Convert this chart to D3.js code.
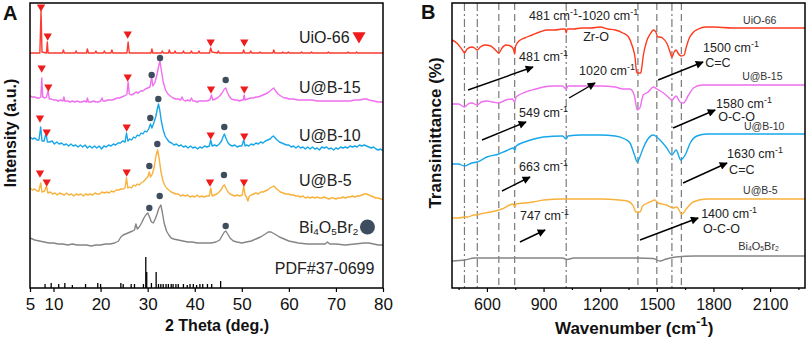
<!DOCTYPE html>
<html>
<head>
<meta charset="utf-8">
<script src="https://cdn.jsdelivr.net/npm/d3@7"></script>
<style>
  body { margin: 0; background: #fff; }
  svg { font-family: "Liberation Sans", Arial, sans-serif; }
  .frame { fill: none; stroke: #000; stroke-width: 1.5; }
  .axis path { display: none; }
  .axis line { stroke: #000; stroke-width: 1.2; }
  .axis text { font-size: 16px; fill: #111; font-family: "Liberation Sans", Arial, sans-serif; }
  .axisA text { font-size: 17px; }
  .title { font-weight: bold; fill: #111; }
  .curve { fill: none; stroke-width: 1.4; stroke-linejoin: round; }
</style>
</head>
<body>
<svg id="chart" width="809" height="340"></svg>
<script>
// ---------- data (XRD, panel A) : [2theta, counts above own baseline] ----------
var xrdNames = ["UiO-66", "U@B-15", "U@B-10", "U@B-5", "Bi4O5Br2"];
var xrdColors = ["#fb3b2f", "#f06ef0", "#17a6ea", "#f8b13c", "#858585"];
var xrdOffsets = [235, 185, 140, 91, 43];
var xrdTicks = [5, 10, 20, 30, 40, 50, 60, 70, 80];

var xrdUiO66 = [[5,0],[7.1,0],[7.34,42],[7.55,1],[8.5,0],[8.68,11],[8.85,0],[11.9,0],[12.1,3],[12.3,0],[14.6,0],[14.8,2],[15.0,0],[17.0,0],[17.2,4],[17.4,0],[18.8,0],[19.0,2],[19.2,0],[20.6,0],[20.8,2],[21.0,0],[22.2,0],[22.4,3],[22.6,0],[25.6,0],[25.85,11],[26.1,0],[30.7,0],[30.9,4],[31.1,0],[32.9,0],[33.1,2],[33.3,0],[34.4,0],[34.6,3],[34.8,0],[35.6,0],[35.8,2],[36.0,0],[37.4,0],[37.6,2],[37.8,0],[39.1,0],[39.3,2],[39.5,0],[40.7,0],[40.9,2],[41.1,0],[43.15,0],[43.4,5],[43.65,1],[44.8,0],[45.0,2],[45.2,0],[50.2,0],[50.4,3],[50.6,0],[51.7,0],[51.9,2],[52.1,0],[53.7,0],[53.9,1],[54.1,0],[56.6,0],[56.8,3],[57.0,0],[58.5,0],[58.7,1],[58.9,0],[59.7,0],[59.9,1],[60.1,0],[62.5,0],[62.7,1],[62.9,0],[64.6,0],[64.8,1],[65.0,0],[68.2,0],[68.4,1],[68.6,0],[72.4,0],[72.6,1],[72.8,0],[74.2,0],[74.4,1],[74.6,0],[80,0]];

var xrdUB15 = [[5,7],[5.5,6],[6,6],[6.5,5],[7.0,5],[7.3,6],[7.5,25],[7.7,6],[8.2,5],[8.5,6],[8.85,12],[9.1,4],[9.6,4],[10,3],[10.5,3],[11,2],[11.5,3],[12,2],[12.2,6],[12.4,2],[13,2],[13.5,1],[14,2],[14.5,1],[15,2],[15.5,1],[16,1],[16.5,2],[17,1],[17.2,5],[17.4,1],[18,1],[18.5,2],[19,1],[19.5,1],[20,2],[20.3,5],[20.5,2],[21,2],[21.5,3],[22,3],[22.5,3],[23,4],[23.5,5],[24,5],[24.5,6],[25,7],[25.4,8],[25.6,9],[25.85,21],[26.1,9],[26.5,8],[27,9],[27.5,11],[28,10],[28.5,12],[29,12],[29.5,14],[30,15],[30.5,16],[30.85,26],[31.1,17],[31.5,20],[31.9,27],[32.3,36],[32.6,42],[32.9,33],[33.3,21],[33.8,13],[34.3,9],[34.8,7],[35.4,5],[36,4],[36.5,4],[37,3],[37.3,6],[37.6,3],[38,2],[38.5,3],[39,2],[39.3,5],[39.6,2],[40,2],[40.5,1],[41,2],[41.5,2],[42,2],[42.5,2],[43.2,3],[43.55,8],[43.8,3],[44.3,4],[44.8,5],[45.3,7],[45.8,10],[46.3,14],[46.6,15],[46.9,11],[47.3,7],[47.8,4],[48.5,3],[49,3],[49.5,2],[50,3],[50.3,3],[50.5,8],[50.7,3],[51.2,4],[51.8,5],[52.5,5],[53,6],[53.5,6],[54,7],[54.5,8],[55,9],[55.5,10],[56,12],[56.5,14],[56.8,15],[57.2,12],[57.7,9],[58.3,7],[59,5],[59.5,5],[60,4],[61,4],[62,3],[63,3],[64,3],[65,3],[66,2],[67,2],[68,2],[69,2],[70,2],[71,2],[72,2],[73,2],[74,3],[75,3],[76,4],[76.5,4],[77,3],[78,2],[79,1],[80,1]];

var xrdUB10 = [[5,11],[5.5,9],[6,10],[6.5,8],[6.9,8],[7.27,21],[7.55,7],[8.0,7],[8.4,15],[8.7,6],[9.2,6],[9.7,7],[10.2,4],[10.7,6],[11.2,4],[11.7,5],[12.2,3],[12.7,4],[13.2,2],[13.7,4],[14.2,2],[14.7,3],[15.2,1],[15.7,3],[16.2,1],[16.7,3],[17.2,0],[17.7,2],[18.2,0],[18.7,2],[19.2,0],[19.7,2],[20.2,-1],[20.7,2],[21.2,1],[21.7,3],[22.2,2],[22.7,4],[23.2,3],[23.7,5],[24.2,5],[24.7,7],[25.2,6],[25.5,15],[25.8,7],[26.2,9],[26.6,8],[27.0,11],[27.4,10],[27.8,13],[28.2,12],[28.6,15],[29.0,14],[29.4,17],[29.8,16],[30.2,19],[30.6,24],[30.9,20],[31.3,25],[31.7,31],[32.0,38],[32.3,44],[32.6,37],[32.9,27],[33.3,18],[33.7,12],[34.1,9],[34.6,6],[35.1,5],[35.6,3],[36.1,4],[36.6,2],[37.1,3],[37.6,1],[38.1,2],[38.6,0],[39.1,2],[39.6,0],[40.1,1],[40.6,-1],[41.1,1],[41.6,0],[42.1,2],[42.6,1],[43.1,2],[43.4,8],[43.7,2],[44.2,3],[44.7,2],[45.2,4],[45.7,7],[46.0,11],[46.3,14],[46.7,9],[47.1,5],[47.5,3],[48,2],[48.5,3],[49,1],[49.5,2],[50.0,2],[50.4,8],[50.7,2],[51,3],[51.5,2],[52,4],[52.5,3],[53,5],[53.5,4],[54,6],[54.5,5],[55,7],[55.5,8],[56,9],[56.4,11],[56.7,12],[57.1,10],[57.5,8],[58,6],[58.5,5],[59,4],[59.5,3],[60,3],[60.5,1],[61,2],[61.5,0],[62,2],[62.5,0],[63,1],[63.5,-1],[64,1],[64.5,-1],[65,1],[65.5,-1],[66,0],[66.5,-2],[67,1],[67.5,0],[68,1],[68.5,-1],[69,0],[69.5,-2],[70,0],[70.5,-1],[71,1],[71.5,0],[72,1],[72.5,0],[73,2],[73.5,1],[74,2],[74.5,1],[75,3],[75.5,2],[76,3],[76.5,2],[77,1],[77.5,0],[78,1],[78.5,-1],[79,-2],[79.5,-1],[80,-3]];

var xrdUB5 = [[5,9],[5.5,7],[6,8],[6.5,6],[6.9,6],[7.27,14],[7.55,5],[8.1,6],[8.5,11],[8.8,4],[9.3,5],[9.8,3],[10.3,4],[10.8,2],[11.3,4],[11.8,3],[12.3,2],[12.8,4],[13.3,2],[13.8,3],[14.3,1],[14.8,3],[15.3,2],[15.8,3],[16.3,1],[16.8,3],[17.3,2],[17.8,3],[18.3,2],[18.8,4],[19.3,3],[19.8,3],[20.3,5],[20.8,4],[21.3,5],[21.8,4],[22.3,6],[22.8,5],[23.3,7],[23.8,7],[24.3,8],[24.8,8],[25.2,9],[25.5,19],[25.8,9],[26.2,10],[26.6,9],[27.0,12],[27.4,11],[27.8,13],[28.2,12],[28.6,14],[29.0,15],[29.4,17],[29.8,19],[30.1,21],[30.35,25],[30.6,20],[31.0,23],[31.4,30],[31.8,42],[32.1,47],[32.4,40],[32.8,26],[33.2,17],[33.6,12],[34.0,9],[34.5,7],[35,5],[35.5,4],[36,3],[36.5,3],[37,1],[37.5,2],[38,1],[38.5,2],[39,0],[39.5,1],[40,0],[40.5,2],[41,0],[41.5,1],[42,0],[42.5,1],[43.1,1],[43.4,9],[43.7,1],[44.2,2],[44.7,3],[45.2,5],[45.7,8],[46.0,11],[46.3,12],[46.7,8],[47.1,5],[47.5,3],[48,2],[48.5,1],[49,2],[49.5,1],[50.1,2],[50.4,11],[50.7,2],[51.0,0],[51.3,-4],[51.6,1],[52,2],[52.5,3],[53,4],[53.5,3],[54,5],[54.5,5],[55,6],[55.5,7],[56,9],[56.4,10],[56.8,11],[57.2,9],[57.7,7],[58.2,5],[58.8,4],[59.3,3],[60,3],[60.5,2],[61,2],[61.5,1],[62,1],[62.5,0],[63,1],[63.5,-1],[64,0],[64.5,-1],[65,0],[65.5,-1],[66,0],[66.5,-1],[67,-1],[67.5,0],[68,-1],[68.5,-2],[69,-1],[69.5,-1],[70,-2],[70.5,-1],[71,-1],[71.5,0],[72,-1],[72.5,0],[73,0],[73.5,1],[74,0],[74.5,1],[75,1],[75.5,2],[76,3],[76.5,3],[77,2],[77.5,1],[78,0],[78.5,-1],[79,-1],[79.5,-2],[80,-2]];

var xrdBOB = [[5,7],[6,5],[7,4],[8,3],[9,2],[10,2],[11,1],[12,1],[13,0],[14,1],[15,0],[16,0],[17,0],[18,-1],[19,0],[20,0],[21,1],[22,1],[23,2],[23.8,4],[24.3,8],[24.8,10],[25.3,11],[25.8,12],[26.3,13],[26.8,14],[27.2,15],[27.5,21],[27.8,16],[28.2,18],[28.7,22],[29.2,27],[29.6,30],[30.0,32],[30.4,28],[30.8,23],[31.2,22],[31.6,26],[32.0,31],[32.4,37],[32.8,40],[33.1,33],[33.5,22],[34,14],[34.5,10],[35,7],[35.5,6],[36.5,5],[37.5,4],[38.5,3],[39.5,3],[40.5,2],[41.5,2],[42.5,2],[43.5,2],[44.5,3],[45.3,5],[45.9,10],[46.3,13],[46.6,14],[47.0,11],[47.5,7],[48.2,4],[49,3],[50,2],[51,3],[52,4],[53,6],[54,8],[55,11],[55.6,13],[56.2,13],[57,11],[58,8],[59,6],[60,4],[62,2],[64,1],[66,1],[67.7,1],[68.2,3],[68.7,1],[70,1],[72,0],[74,1],[76,2],[77,2],[78,1],[79,0],[80,0]];

// standard card PDF#37-0699 (2theta, relative height)
var pdfSticks = [[8.2,4],[9.5,5],[11.1,4],[12.4,5],[14.0,3],[16.8,4],[19.4,5],[20.0,4],[24.3,5],[24.8,4],[26.5,4],[27.2,4],[29.1,4],[29.6,31],[29.8,16],[30.8,5],[31.8,16],[32.3,4],[32.8,4],[33.3,4],[33.9,4],[34.4,4],[35.0,4],[35.4,4],[36.0,4],[36.5,4],[37.6,4],[38.4,3],[39.0,4],[39.7,4],[40.4,3],[41.1,4],[41.7,4],[42.7,4],[43.6,4],[45.5,7]];

// peak markers: UiO-66 (triangles) and Bi4O5Br2 (dots) per pattern
var uioMarks = [
  [[7.34,46],[8.76,17],[25.76,19],[43.39,11],[50.53,11]],
  [[7.49,35],[8.89,16],[25.76,26],[43.45,14],[50.53,14]],
  [[7.12,30],[8.55,16],[25.54,21],[43.39,13],[50.53,12]],
  [[7.12,24],[8.55,15],[25.54,25],[43.24,15],[50.46,15]],
  []
];
var bobMarks = [
  [],
  [[30.85,28],[32.62,45],[46.58,23]],
  [[30.56,30],[32.26,49],[46.28,21]],
  [[30.35,31],[32.05,53],[46.21,22]],
  [[30.35,37],[32.56,49],[46.58,19]]
];

// ---------- data (FTIR, panel B) : [wavenumber, transmittance rel. to own baseline] ----------
var ftirNames = ["UiO-66", "U@B-15", "U@B-10", "U@B-5", "Bi4O5Br2"];
var ftirColors = ["#ff3b1f", "#f06ef0", "#17a6ea", "#f8b13c", "#858585"];
var ftirOffsets = [260, 203, 154, 89, 32];
var ftirTicks = [600, 900, 1200, 1500, 1800, 2100];
var ftirBands = [481, 549, 663, 747, 1020, 1400, 1500, 1580, 1630];

var ftirUiO66 = [[415,-12],[440,-15],[470,-22],[481,-25],[495,-21],[520,-19],[535,-20],[549,-22],[565,-19],[590,-17],[620,-18],[645,-22],[663,-25],[680,-20],[700,-17],[725,-18],[740,-21],[747,-26],[752,-18],[770,-13],[800,-10],[840,-7],[880,-4],[920,-2],[960,-2],[1000,-1],[1015,-1],[1020,-5],[1025,-1],[1060,-1],[1100,0],[1150,0],[1200,1],[1240,-1],[1280,-2],[1320,-5],[1350,-9],[1370,-18],[1385,-30],[1393,-44],[1397,-45],[1415,-45],[1420,-40],[1428,-28],[1445,-14],[1465,-6],[1482,-2],[1495,-4],[1505,-9],[1515,-9],[1530,-10],[1555,-16],[1570,-24],[1580,-29],[1592,-24],[1602,-22],[1615,-26],[1630,-28],[1645,-27],[1655,-20],[1670,-11],[1690,-5],[1720,-1],[1760,1],[1800,1],[1900,0],[2000,0],[2100,0],[2200,0],[2285,0]];
var ftirUB15 = [[415,-19],[450,-19],[481,-22],[500,-19],[520,-18],[549,-20],[570,-17],[600,-16],[630,-17],[663,-18],[700,-15],[735,-14],[747,-17],[755,-12],[780,-9],[820,-6],[860,-4],[900,-2],[950,-1],[1000,-1],[1020,-4],[1030,-1],[1100,-1],[1200,-1],[1280,-2],[1320,-4],[1358,-4],[1380,-10],[1397,-25],[1410,-23],[1428,-10],[1454,-7],[1482,-2],[1500,-4],[1520,-6],[1535,-8],[1560,-12],[1580,-15],[1602,-11],[1623,-17],[1641,-18],[1668,-10],[1694,-3],[1738,0],[1800,0],[2000,0],[2285,0]];
var ftirUB10 = [[415,-30],[450,-30],[481,-32],[520,-29],[549,-28],[600,-23],[663,-20],[700,-17],[740,-14],[747,-16],[755,-12],[800,-8],[850,-5],[900,-3],[1000,-2],[1020,-5],[1030,-2],[1100,-1],[1200,-1],[1280,-2],[1330,-5],[1358,-9],[1380,-20],[1397,-28],[1410,-23],[1428,-14],[1449,-6],[1482,-1],[1500,-3],[1517,-6],[1553,-14],[1580,-21],[1602,-16],[1627,-26],[1650,-21],[1677,-9],[1712,-2],[1765,0],[1900,0],[2285,0]];
var ftirUB5 = [[415,-19],[450,-19],[481,-18],[500,-18],[530,-16],[549,-16],[563,-15],[620,-13],[663,-11],[680,-10],[720,-6],[740,-5],[747,-8],[755,-5],[800,-4],[845,-3],[900,-1],[1000,0],[1100,0],[1200,0],[1300,-1],[1343,-2],[1375,-7],[1390,-13],[1411,-13],[1425,-7],[1464,-3],[1490,-1],[1506,-4],[1552,-6],[1585,-9],[1606,-8],[1632,-15],[1660,-9],[1692,-3],[1765,0],[2285,0]];
var ftirBOB = [[415,-5],[483,-4],[533,-2],[560,-2],[1000,-2],[1025,-3.5],[1060,-2],[1200,-2],[1400,-2],[1480,-2.5],[1517,-5],[1550,-3],[1600,-1],[1700,0],[2285,0]];

// ---------- setup ----------
var svg = d3.select("#chart");
var xA = d3.scaleLinear().domain([5, 80]).range([30, 383]);
var xB = d3.scaleLinear().domain([415, 2285]).range([452, 805]);
var yScale = d3.scaleLinear().domain([0, 285]).range([288, 3]);   // shared by both panels

// text with super/subscripts, parts = [[string, "sup"|"sub"|null], ...]
function richText(g, x, y, parts, size, anchor) {
    var t = g.append("text").attr("x", x).attr("y", y)
        .style("font-size", size + "px")
        .attr("text-anchor", anchor || "start");
    var cur = 0;
    parts.forEach(function(p) {
        var off = 0, fs = size;
        if (p[1] == "sup") { off = -size * 0.42; fs = size * 0.72; }
        if (p[1] == "sub") { off = size * 0.12; fs = size * 0.62; }
        t.append("tspan").attr("dy", off - cur).style("font-size", fs + "px").text(p[0]);
        cur = off;
    });
    return t;
}
var bobParts = [["Bi"],["4","sub"],["O"],["5","sub"],["Br"],["2","sub"]];

// ================= panel A : XRD =================
var gA = svg.append("g");
var xrdSeries = [xrdUiO66, xrdUB15, xrdUB10, xrdUB5, xrdBOB];

xrdSeries.forEach(function(data, i) {
    var line = d3.line()
        .x(function(d) { return xA(d[0]); })
        .y(function(d) { return yScale(d[1] + xrdOffsets[i]); });
    gA.append("path").datum(data).attr("class", "curve")
        .attr("stroke", xrdColors[i]).attr("d", line);
});

// standard sticks
gA.selectAll(".stick").data(pdfSticks).enter().append("line")
    .attr("x1", function(d) { return xA(d[0]); })
    .attr("x2", function(d) { return xA(d[0]); })
    .attr("y1", yScale(0))
    .attr("y2", function(d) { return yScale(d[1]); })
    .attr("stroke", "#000").attr("stroke-width", 1.3);

// markers
var tri = d3.symbol(d3.symbolTriangle, 30);
uioMarks.forEach(function(marks, i) {
    gA.selectAll(null).data(marks).enter().append("path")
        .attr("d", tri)
        .attr("transform", function(d) { return "translate(" + xA(d[0]) + "," + yScale(d[1] + xrdOffsets[i]) + ") rotate(180)"; })
        .attr("fill", "#ee1c1c");
});
bobMarks.forEach(function(marks, i) {
    gA.selectAll(null).data(marks).enter().append("circle")
        .attr("cx", function(d) { return xA(d[0]); })
        .attr("cy", function(d) { return yScale(d[1] + xrdOffsets[i]); })
        .attr("r", 3.2)
        .attr("fill", "#3e4d5e");
});

// labels on the right
var xrdLabelY = [245, 195, 147, 102, 55];
var labA = gA.append("g").attr("fill", "#222");
xrdNames.forEach(function(n, i) {
    if (i == 4) richText(labA, xA(62.15), yScale(xrdLabelY[i]), bobParts, 16);
    else labA.append("text").attr("x", xA(62.15)).attr("y", yScale(xrdLabelY[i]))
        .style("font-size", "16px").text(n);
});
labA.append("text").attr("x", xA(57.0)).attr("y", yScale(14)).style("font-size", "16px").text("PDF#37-0699");
labA.append("path").attr("d", d3.symbol(d3.symbolTriangle, 75))
    .attr("transform", "translate(" + xA(74.9) + "," + yScale(252) + ") rotate(180)")
    .attr("fill", "#ee1c1c");
labA.append("circle").attr("cx", xA(76.7)).attr("cy", yScale(61)).attr("r", 7.5).attr("fill", "#3e4d5e");

// axis
gA.append("g").attr("class", "axis axisA")
    .attr("transform", "translate(0,288)")
    .call(d3.axisBottom(xA).tickValues(xrdTicks).tickSize(4).tickPadding(6));
gA.append("rect").attr("class", "frame").attr("x", 30).attr("y", 3).attr("width", 353).attr("height", 285);

gA.append("text").attr("class", "title").attr("x", 217).attr("y", 331)
    .attr("text-anchor", "middle").style("font-size", "16px").text("2 Theta (deg.)");
gA.append("text").attr("class", "title").attr("transform", "translate(16,133) rotate(-90)")
    .attr("text-anchor", "middle").style("font-size", "16px").text("Intensity (a.u.)");
gA.append("text").attr("class", "title").attr("x", 3).attr("y", 20).style("font-size", "20px").text("A");

// ================= panel B : FTIR =================
var gB = svg.append("g");

// band guide lines
var dashStyle = ["8,3,2,3", "8,3,2,3", "7,4", "7,4", "8,3,2,3", "7,4", "7,4", "8,3,2,3", "7,4"];
gB.selectAll(".band").data(ftirBands).enter().append("line")
    .attr("x1", function(d) { return xB(d); })
    .attr("x2", function(d) { return xB(d); })
    .attr("y1", 3).attr("y2", 288)
    .attr("stroke", "#7a7a7a").attr("stroke-width", 1.2)
    .attr("stroke-dasharray", function(d, i) { return dashStyle[i]; });

var ftirSeries = [ftirUiO66, ftirUB15, ftirUB10, ftirUB5, ftirBOB];
ftirSeries.forEach(function(data, i) {
    var line = d3.line()
        .curve(d3.curveMonotoneX)
        .x(function(d) { return xB(d[0]); })
        .y(function(d) { return yScale(d[1] + ftirOffsets[i]); });
    gB.append("path").datum(data).attr("class", "curve")
        .attr("stroke", ftirColors[i]).attr("stroke-width", 1.6).attr("d", line);
});

// series labels
var ftirLabelPos = [[1957,264], [1952,208], [1962,158], [1957,94], [1931,38]];
var labB = gB.append("g").attr("fill", "#333");
ftirNames.forEach(function(n, i) {
    var p = ftirLabelPos[i];
    if (i == 4) richText(labB, xB(p[0]), yScale(p[1]), bobParts, 11);
    else labB.append("text").attr("x", xB(p[0])).attr("y", yScale(p[1])).style("font-size", "10.5px").text(n);
});

// band annotations [wavenumber, level, parts]
var annoText = [
    [823, 268, [["481 cm"],["-1","sup"],["-1020 cm"],["-1","sup"]]],
    [770, 227, [["481 cm"],["-1","sup"]]],
    [1088, 213, [["1020 cm"],["-1","sup"]]],
    [770, 171, [["549 cm"],["-1","sup"]]],
    [770, 117, [["663 cm"],["-1","sup"]]],
    [775, 68, [["747 cm"],["-1","sup"]]],
    [1745, 236, [["1500 cm"],["-1","sup"]]],
    [1756, 221, [["C=C"]]],
    [1814, 180, [["1580 cm"],["-1","sup"]]],
    [1825, 167, [["O-C-O"]]],
    [1872, 130, [["1630 cm"],["-1","sup"]]],
    [1883, 114, [["C=C"]]],
    [1735, 70, [["1400 cm"],["-1","sup"]]],
    [1745, 55, [["O-C-O"]]]
];
var labAnno = gB.append("g").attr("fill", "#222");
annoText.forEach(function(a) { richText(labAnno, xB(a[0]), yScale(a[1]), a[2], 12.5); });
labAnno.append("text").attr("x", xB(1178)).attr("y", yScale(247)).attr("text-anchor", "middle")
    .style("font-size", "12.5px").text("Zr-O");

// arrows [from w, from level, to w, to level]
var arrows = [
    [500,198,844,221], [1035,190,1173,205], [574,148,807,166], [680,97,828,111],
    [775,46,908,58], [1507,208,1745,226], [1586,160,1809,178], [1639,105,1872,125], [1411,48,1719,70]
];
svg.append("defs").append("marker")
    .attr("id", "head").attr("viewBox", "0 0 10 10").attr("refX", 9).attr("refY", 5)
    .attr("markerWidth", 10).attr("markerHeight", 8).attr("markerUnits", "userSpaceOnUse")
    .attr("orient", "auto")
    .append("path").attr("d", "M0,0 L10,5 L0,10 z").attr("fill", "#000");
gB.selectAll(".arrow").data(arrows).enter().append("line")
    .attr("x1", function(d) { return xB(d[0]); })
    .attr("y1", function(d) { return yScale(d[1]); })
    .attr("x2", function(d) { return xB(d[2]); })
    .attr("y2", function(d) { return yScale(d[3]); })
    .attr("stroke", "#000").attr("stroke-width", 1.4)
    .attr("marker-end", "url(#head)");

// axis
var minorB = [450, 750, 1050, 1350, 1650, 1950, 2250];
gB.append("g").attr("class", "axis")
    .attr("transform", "translate(0,288)")
    .call(d3.axisBottom(xB).tickValues(minorB).tickSize(2).tickFormat(""));
gB.append("g").attr("class", "axis")
    .attr("transform", "translate(0,288)")
    .call(d3.axisBottom(xB).tickValues(ftirTicks).tickSize(4).tickPadding(7).tickFormat(d3.format("d")));
gB.append("rect").attr("class", "frame").attr("x", 452).attr("y", 3).attr("width", 353).attr("height", 285);

var tw = gB.append("text").attr("class", "title").attr("x", 555).attr("y", 334).style("font-size", "17px");
tw.append("tspan").text("Wavenumber (cm");
tw.append("tspan").attr("dy", -8).style("font-size", "13px").text("-1");
tw.append("tspan").attr("dy", 8).text(")");
gB.append("text").attr("class", "title").attr("transform", "translate(441,133) rotate(-90)")
    .attr("text-anchor", "middle").style("font-size", "17px").text("Transimittance (%)");
gB.append("text").attr("class", "title").attr("x", 421).attr("y", 19).style("font-size", "20px").text("B");
</script>
</body>
</html>
